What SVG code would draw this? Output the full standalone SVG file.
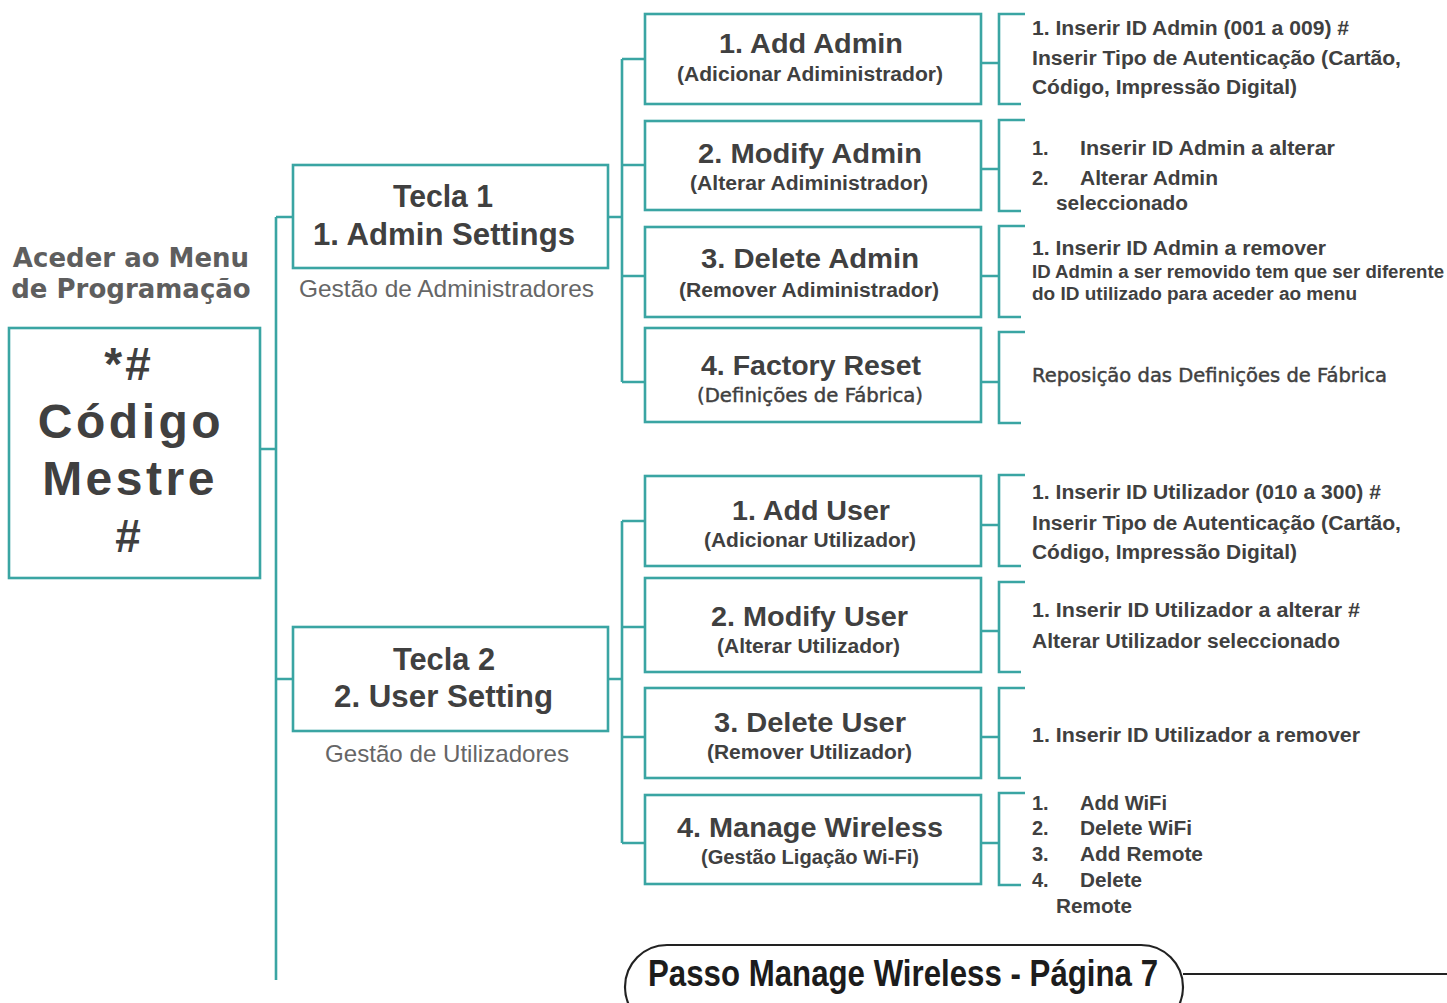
<svg xmlns="http://www.w3.org/2000/svg" width="1447" height="1003" viewBox="0 0 1447 1003">
<style>
.box{fill:#fff;stroke:#3aa5a3;stroke-width:2.6}
.ln{fill:none;stroke:#3aa5a3;stroke-width:2.6}
.a{font-family:"Liberation Sans",Arial,sans-serif;font-weight:bold;fill:#404040}
.r{font-family:"Liberation Sans",Arial,sans-serif;fill:#666}
.d{font-family:"DejaVu Sans",Verdana,sans-serif;fill:#404040;stroke:#404040;stroke-width:0.45}
.c{text-anchor:middle}
.t{font-size:27px}
.s{font-size:19.5px}
.n{font-size:20px}
</style>
<g id="connectors">
<path class="ln" d="M260,449H276M276,217V980M276,217H293M276,679H293"/>
<path class="ln" d="M608,217H622M622,59V382M622,59H645M622,165H645M622,276H645M622,382H645"/>
<path class="ln" d="M608,679H622M622,521V843M622,521H645M622,627H645M622,737H645M622,843H645"/>
<path class="ln" d="M981,63H999M981,169H999M981,276H999M981,382H999M981,525H999M981,631H999M981,737H999M981,843H999"/>
<path class="ln" d="M1025,14H999V104H1021M1025,120H999V211H1021M1025,226H999V317H1021M1025,332H999V423H1021"/>
<path class="ln" d="M1025,475H999V566H1021M1025,582H999V672H1021M1025,688H999V778H1021M1025,793H999V885H1021"/>
<path d="M1183,974H1447" fill="none" stroke="#222" stroke-width="2"/>
</g>
<g id="title">
<text class="c" x="131" y="267" font-family="DejaVu Sans, Verdana, sans-serif" font-size="26" font-weight="bold" fill="#5e5e5e">Aceder ao Menu</text>
<text class="c" x="131" y="298" font-family="DejaVu Sans, Verdana, sans-serif" font-size="26" font-weight="bold" fill="#5e5e5e">de Programação</text>
</g>
<g id="master">
<rect class="box" x="9" y="328" width="251" height="250"/>
<text class="a c" x="129" y="380" font-size="46" letter-spacing="3">*#</text>
<text class="a c" x="131" y="438" font-size="48" letter-spacing="3.5">Código</text>
<text class="a c" x="130" y="495" font-size="48" letter-spacing="3.5">Mestre</text>
<text class="a c" x="128" y="552" font-size="46">#</text>
</g>
<g id="tecla1">
<rect class="box" x="293" y="165" width="315" height="103"/>
<text class="a c" x="443" y="207" font-size="31" textLength="100" lengthAdjust="spacingAndGlyphs">Tecla 1</text>
<text class="a c" x="444" y="245" font-size="31" textLength="262" lengthAdjust="spacingAndGlyphs">1. Admin Settings</text>
<text class="r c" x="446.5" y="297" font-size="24" textLength="295" lengthAdjust="spacingAndGlyphs">Gestão de Administradores</text>
</g>
<g id="tecla2">
<rect class="box" x="293" y="627" width="315" height="104"/>
<text class="a c" x="444" y="670" font-size="31" textLength="102" lengthAdjust="spacingAndGlyphs">Tecla 2</text>
<text class="a c" x="443.5" y="707" font-size="31" textLength="219" lengthAdjust="spacingAndGlyphs">2. User Setting</text>
<text class="r c" x="447" y="762" font-size="24" textLength="244" lengthAdjust="spacingAndGlyphs">Gestão de Utilizadores</text>
</g>
<g id="addAdmin">
<rect class="box" x="645" y="14" width="336" height="90"/>
<text class="a c t" x="811" y="53" textLength="184" lengthAdjust="spacingAndGlyphs">1. Add Admin</text>
<text class="a c s" x="810" y="81" textLength="266" lengthAdjust="spacingAndGlyphs">(Adicionar Adiministrador)</text>
</g>
<g id="modifyAdmin">
<rect class="box" x="645" y="121" width="336" height="89"/>
<text class="a c t" x="810" y="163" textLength="224" lengthAdjust="spacingAndGlyphs">2. Modify Admin</text>
<text class="a c s" x="809" y="190" textLength="238" lengthAdjust="spacingAndGlyphs">(Alterar Adiministrador)</text>
</g>
<g id="deleteAdmin">
<rect class="box" x="645" y="227" width="336" height="90"/>
<text class="a c t" x="810" y="268" textLength="218" lengthAdjust="spacingAndGlyphs">3. Delete Admin</text>
<text class="a c s" x="809" y="297" textLength="260" lengthAdjust="spacingAndGlyphs">(Remover Adiministrador)</text>
</g>
<g id="factoryReset">
<rect class="box" x="645" y="328" width="336" height="94"/>
<text class="a c t" x="811" y="375" textLength="220" lengthAdjust="spacingAndGlyphs">4. Factory Reset</text>
<text class="d c" x="810" y="402" font-size="19.5" textLength="226" lengthAdjust="spacingAndGlyphs">(Definições de Fábrica)</text>
</g>
<g id="addUser">
<rect class="box" x="645" y="476" width="336" height="90"/>
<text class="a c t" x="811" y="520" textLength="158" lengthAdjust="spacingAndGlyphs">1. Add User</text>
<text class="a c s" x="810" y="547" textLength="212" lengthAdjust="spacingAndGlyphs">(Adicionar Utilizador)</text>
</g>
<g id="modifyUser">
<rect class="box" x="645" y="578" width="336" height="94"/>
<text class="a c t" x="809.5" y="626" textLength="197" lengthAdjust="spacingAndGlyphs">2. Modify User</text>
<text class="a c s" x="808.5" y="653" textLength="183" lengthAdjust="spacingAndGlyphs">(Alterar Utilizador)</text>
</g>
<g id="deleteUser">
<rect class="box" x="645" y="688" width="336" height="90"/>
<text class="a c t" x="810" y="732" textLength="192" lengthAdjust="spacingAndGlyphs">3. Delete User</text>
<text class="a c s" x="809.5" y="759" textLength="205" lengthAdjust="spacingAndGlyphs">(Remover Utilizador)</text>
</g>
<g id="manageWireless">
<rect class="box" x="645" y="795" width="336" height="89"/>
<text class="a c t" x="810" y="837" textLength="266" lengthAdjust="spacingAndGlyphs">4. Manage Wireless</text>
<text class="a c s" x="810" y="864" textLength="218" lengthAdjust="spacingAndGlyphs">(Gestão Ligação Wi-Fi)</text>
</g>
<g id="addAdminInfo">
<text class="a n" x="1032" y="35" textLength="317" lengthAdjust="spacingAndGlyphs">1. Inserir ID Admin (001 a 009) #</text>
<text class="a n" x="1032" y="65" textLength="369" lengthAdjust="spacingAndGlyphs">Inserir Tipo de Autenticação (Cartão,</text>
<text class="a n" x="1032" y="94" textLength="265" lengthAdjust="spacingAndGlyphs">Código, Impressão Digital)</text>
</g>
<g id="modifyAdminInfo">
<text class="a n" x="1032" y="155">1.</text>
<text class="a n" x="1080" y="155" textLength="255" lengthAdjust="spacingAndGlyphs">Inserir ID Admin a alterar</text>
<text class="a n" x="1032" y="185">2.</text>
<text class="a n" x="1080" y="185" textLength="138" lengthAdjust="spacingAndGlyphs">Alterar Admin</text>
<text class="a n" x="1056" y="210" textLength="132" lengthAdjust="spacingAndGlyphs">seleccionado</text>
</g>
<g id="deleteAdminInfo">
<text class="a n" x="1032" y="255" textLength="294" lengthAdjust="spacingAndGlyphs">1. Inserir ID Admin a remover</text>
<text class="a" x="1032" y="278" font-size="17.5" textLength="412" lengthAdjust="spacingAndGlyphs">ID Admin a ser removido tem que ser diferente</text>
<text class="a" x="1032" y="300" font-size="17.5" textLength="325" lengthAdjust="spacingAndGlyphs">do ID utilizado para aceder ao menu</text>
</g>
<g id="factoryResetInfo">
<text class="d" x="1032" y="382" font-size="19.4" textLength="355" lengthAdjust="spacingAndGlyphs">Reposição das Definições de Fábrica</text>
</g>
<g id="addUserInfo">
<text class="a n" x="1032" y="499" textLength="349" lengthAdjust="spacingAndGlyphs">1. Inserir ID Utilizador (010 a 300) #</text>
<text class="a n" x="1032" y="530" textLength="369" lengthAdjust="spacingAndGlyphs">Inserir Tipo de Autenticação (Cartão,</text>
<text class="a n" x="1032" y="559" textLength="265" lengthAdjust="spacingAndGlyphs">Código, Impressão Digital)</text>
</g>
<g id="modifyUserInfo">
<text class="a n" x="1032" y="617" textLength="328" lengthAdjust="spacingAndGlyphs">1. Inserir ID Utilizador a alterar #</text>
<text class="a n" x="1032" y="648" textLength="308" lengthAdjust="spacingAndGlyphs">Alterar Utilizador seleccionado</text>
</g>
<g id="deleteUserInfo">
<text class="a n" x="1032" y="742" textLength="328" lengthAdjust="spacingAndGlyphs">1. Inserir ID Utilizador a remover</text>
</g>
<g id="wirelessInfo">
<text class="a n" x="1032" y="810">1.</text>
<text class="a n" x="1080" y="810" textLength="87" lengthAdjust="spacingAndGlyphs">Add WiFi</text>
<text class="a n" x="1032" y="835">2.</text>
<text class="a n" x="1080" y="835" textLength="112" lengthAdjust="spacingAndGlyphs">Delete WiFi</text>
<text class="a n" x="1032" y="861">3.</text>
<text class="a n" x="1080" y="861" textLength="123" lengthAdjust="spacingAndGlyphs">Add Remote</text>
<text class="a n" x="1032" y="887">4.</text>
<text class="a n" x="1080" y="887" textLength="62" lengthAdjust="spacingAndGlyphs">Delete</text>
<text class="a n" x="1056" y="913" textLength="76" lengthAdjust="spacingAndGlyphs">Remote</text>
</g>
<g id="pageRef">
<rect x="625" y="945" width="558" height="84" rx="42" ry="42" fill="#fff" stroke="#222" stroke-width="2.2"/>
<text class="a" x="648" y="986" font-size="36" style="fill:#1c1c1c" textLength="510" lengthAdjust="spacingAndGlyphs">Passo Manage Wireless - Página 7</text>
</g>
</svg>
